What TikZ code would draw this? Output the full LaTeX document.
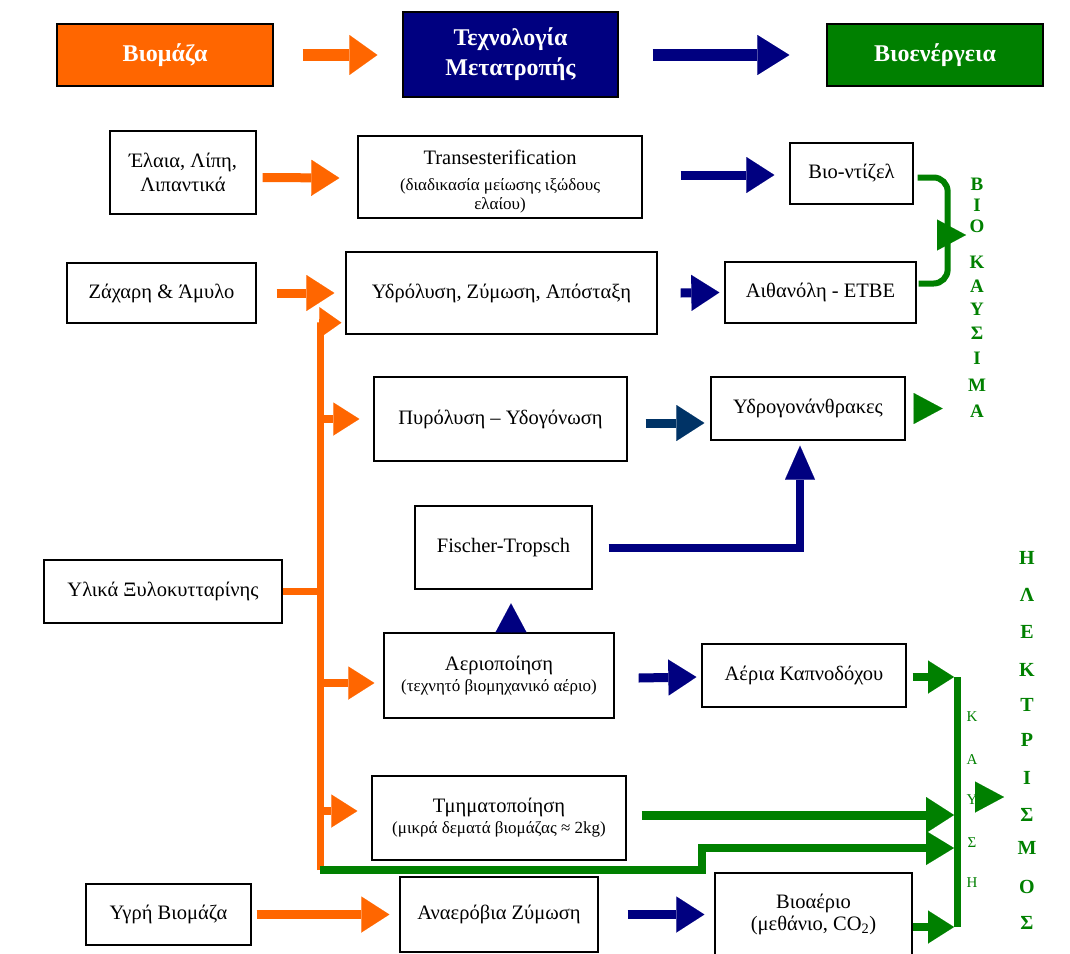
\documentclass[tikz,border=0pt]{standalone}
\usepackage{fontspec}
\setmainfont{Liberation Serif}
\usetikzlibrary{arrows.meta,calc}
\definecolor{org}{HTML}{FF6600}
\definecolor{nvy}{HTML}{000080}
\definecolor{grn}{HTML}{008000}
\definecolor{dblue}{HTML}{003366}
\newcommand{\smallfnt}{\fontsize{17}{19}\selectfont}
\tikzset{
  box/.style={draw=black,line width=1.3pt,fill=white,align=center,inner sep=0pt,font=\fontsize{20.5}{24}\selectfont},
  hdr/.style={draw=black,line width=1.3pt,align=center,inner sep=0pt,text=white,font=\fontsize{24}{30}\selectfont\bfseries},
  fat/.style={line width=9pt,-{Triangle[length=28pt,width=36pt,line width=0.01pt]}},
  mid/.style={line width=8pt,-{Triangle[length=26pt,width=33pt,line width=0.01pt]}},
  headonly/.style={line width=0.5pt,-{Triangle[length=29pt,width=31pt,line width=0.01pt]}},
  vlet/.style={text=grn,font=\fontsize{19}{20}\selectfont\bfseries,inner sep=0pt},
  elet/.style={text=grn,font=\fontsize{20}{20}\selectfont\bfseries,inner sep=0pt},
  klet/.style={text=grn,font=\fontsize{15}{16}\selectfont,inner sep=0pt},
}
\begin{document}
\begin{tikzpicture}[x=1pt,y=-1pt]
\useasboundingbox (0,0) rectangle (1070,953);

% header
\node[hdr,fill=org,minimum width=216pt,minimum height=62pt] (bio) at (165,55) {Βιομάζα};
\node[hdr,fill=nvy,minimum width=215pt,minimum height=85pt] (tech) at (510.5,54.5) {Τεχνολογία\\Μετατροπής};
\node[hdr,fill=grn,minimum width=216pt,minimum height=62pt] (bioen) at (935,55) {Βιοενέργεια};
\draw[org,line width=12pt,-{Triangle[length=28pt,width=40pt,line width=0.01pt]}] ([xshift=29pt]bio.east) -- ([xshift=-25pt]tech.west |- bio.east);
\draw[nvy,line width=12pt,-{Triangle[length=32pt,width=40pt,line width=0.01pt]}] ([xshift=34pt]tech.east |- bioen.west) -- ([xshift=-37pt]bioen.west);

% boxes
\node[box,minimum width=146pt,minimum height=83pt] (ela) at (183,172.5) {Έλαια, Λίπη,\\Λιπαντικά};
\node[box,minimum width=284pt,minimum height=82pt] (trans) at (500,177) {};
\node[box,draw=none,fill=none] (transT) at (500,157) {Transesterification};
\node[box,draw=none,fill=none,font=\smallfnt] (transS) at (500,196) {(διαδικασία μείωσης ιξώδους\\ελαίου)};
\node[box,minimum width=123pt,minimum height=61pt] (diesel) at (851.5,173.5) {\raisebox{3pt}{Βιο-ντίζελ}};
\node[box,minimum width=189pt,minimum height=60pt] (sugar) at (161.5,293) {Ζάχαρη \& Άμυλο};
\node[box,minimum width=311pt,minimum height=82pt] (hydro) at (501.5,293) {Υδρόλυση, Ζύμωση, Απόσταξη};
\node[box,minimum width=191pt,minimum height=61pt] (ethanol) at (820.5,292.5) {Αιθανόλη - ETBE};
\node[box,minimum width=253pt,minimum height=84pt] (pyro) at (500.5,419) {Πυρόλυση – Υδογόνωση};
\node[box,minimum width=194pt,minimum height=63pt] (hc) at (808,408.5) {\raisebox{2pt}{Υδρογονάνθρακες}};
\node[box,minimum width=177pt,minimum height=83pt] (ft) at (503.5,547.5) {Fischer-Tropsch};
\node[box,minimum width=238pt,minimum height=63pt] (ligno) at (163,591.5) {Υλικά Ξυλοκυτταρίνης};
\node[box,minimum width=230pt,minimum height=85pt] (gas) at (499,675.5) {Αεριοποίηση\\[-3pt]{\smallfnt (τεχνητό βιομηχανικό αέριο)}};
\node[box,minimum width=204pt,minimum height=63pt] (flue) at (804,675.5) {Αέρια Καπνοδόχου};
\node[box,minimum width=254pt,minimum height=84pt] (frag) at (499,818) {Τμηματοποίηση\\[-3pt]{\smallfnt (μικρά δεματά βιομάζας ≈ 2kg)}};
\node[box,minimum width=165pt,minimum height=61pt] (wet) at (168.5,914.5) {Υγρή Βιομάζα};
\node[box,minimum width=198pt,minimum height=75pt] (anaer) at (499,914.5) {Αναερόβια Ζύμωση};
\node[box,minimum width=197pt,minimum height=82pt] (biogas) at (813.5,914) {Βιοαέριο\\[-2pt](μεθάνιο, CO\textsubscript{2})};

% row arrows
\draw[org,fat] ([xshift=6pt,yshift=-5pt]ela.east) -- ([xshift=-18pt,yshift=-1pt]trans.west);
\draw[nvy,fat] ([xshift=38pt,yshift=2pt]trans.east) -- ([xshift=-15pt,yshift=-1.5pt]diesel.west);
\draw[org,fat] ([xshift=20pt]sugar.east) -- ([xshift=-11pt]hydro.west);
\draw[nvy,fat] ([xshift=23pt]hydro.east) -- ([xshift=-5pt]ethanol.west);
\coordinate (pa) at ([xshift=18pt,yshift=-4pt]pyro.east);
\draw[dblue,fat] (pa) -- ($(pa -| hc.west)+(-6,0)$);
\draw[nvy,fat] ([xshift=24pt,yshift=-2.5pt]gas.east) -- ([xshift=-5pt,yshift=-1.5pt]flue.west);
\draw[org,fat] ([xshift=5pt]wet.east) -- ([xshift=-10pt]anaer.west);
\draw[nvy,fat] ([xshift=29pt]anaer.east) -- ([xshift=-10pt,yshift=-0.5pt]biogas.west);

% Fischer-Tropsch
\draw[nvy,line width=8pt,-{Triangle[length=34pt,width=30pt,line width=0.01pt]}] ([xshift=16pt]ft.east) -| ([xshift=-8pt,yshift=-5pt]hc.south);
\draw[nvy,headonly] ([xshift=12pt]gas.north) -- ++(0,-29);

% orange trunk
\coordinate (trunkB) at (320,870);
\draw[org,line width=7pt,-{Triangle[length=22pt,width=31pt,line width=0.01pt]}] (trunkB) |- ([xshift=-4pt,yshift=12pt]hydro.south west);
\draw[org,line width=7pt] (ligno.east) -- (ligno.east -| trunkB);
\draw[org,mid] (trunkB |- pyro.west) -- ([xshift=-14pt]pyro.west);
\draw[org,mid] ($(trunkB |- gas.west)+(0,7.5)$) -- ([xshift=-9pt,yshift=-7.5pt]gas.west);
\draw[org,mid] ($(trunkB |- frag.west)+(0,-7)$) -- ([xshift=-14pt,yshift=7pt]frag.west);

% bio-fuel bracket
\draw[grn,line width=6pt,rounded corners=14pt] ([xshift=4pt,yshift=-4pt]diesel.east) -- ++(30,0) |- ([xshift=2pt,yshift=9pt]ethanol.east);
\coordinate (bkA) at (937,235);
\draw[grn,headonly] (bkA) -- ++(29,0);
\draw[grn,headonly] ([xshift=8pt]hc.east) -- ++(29,0);

% green bus
\coordinate (busT) at (957,677);
\coordinate (busB) at (957,927);
\draw[grn,line width=7pt] (busT) -- (busB);
\draw[grn,mid] ([xshift=6pt,yshift=-1.5pt]flue.east) -- ($(busT)+(-3,0)$);
\coordinate (fa) at ([xshift=15pt,yshift=3pt]frag.east);
\draw[grn,fat] (fa) -- ($(fa -| busT)+(-3,0)$);
\draw[grn,line width=8pt,-{Triangle[length=28pt,width=34pt,line width=0.01pt]}] (trunkB) -- ++(382,0) |- ($(busT)+(-3,171)$);
\draw[grn,mid] ([yshift=-13pt]biogas.east) -- ($(busB)+(-3,0)$);
\coordinate (kA) at (975,797);

% vertical labels: ΒΙΟ ΚΑΥΣΙΜΑ
\node[vlet] (v1) at (977,184) {Β};
\node[vlet] (v2) at (977,205) {Ι};
\node[vlet] (v3) at (977,226) {Ο};
\node[vlet] (v4) at (977,262) {Κ};
\node[vlet] (v5) at (977,286) {Α};
\node[vlet] (v6) at (977,309) {Υ};
\node[vlet] (v7) at (977,333) {Σ};
\node[vlet] (v8) at (977,358) {Ι};
\node[vlet] (v9) at (977,385) {Μ};
\node[vlet] (v10) at (977,411) {Α};

% ΚΑΥΣΗ
\node[klet] (k1) at (972,717) {Κ};
\node[klet] (k2) at (972,760) {Α};
\node[klet] (k3) at (972,800) {Υ};
\node[klet] (k4) at (972,843) {Σ};
\node[klet] (k5) at (972,883) {Η};
\draw[grn,headonly] (kA) -- ++(29,0);

% ΗΛΕΚΤΡΙΣΜΟΣ
\node[elet] (e1) at (1027,558) {Η};
\node[elet] (e2) at (1027,595) {Λ};
\node[elet] (e3) at (1027,632) {Ε};
\node[elet] (e4) at (1027,670) {Κ};
\node[elet] (e5) at (1027,705) {Τ};
\node[elet] (e6) at (1027,740) {Ρ};
\node[elet] (e7) at (1027,778) {Ι};
\node[elet] (e8) at (1027,815) {Σ};
\node[elet] (e9) at (1027,848) {Μ};
\node[elet] (e10) at (1027,887) {Ο};
\node[elet] (e11) at (1027,923) {Σ};
\end{tikzpicture}
\end{document}
